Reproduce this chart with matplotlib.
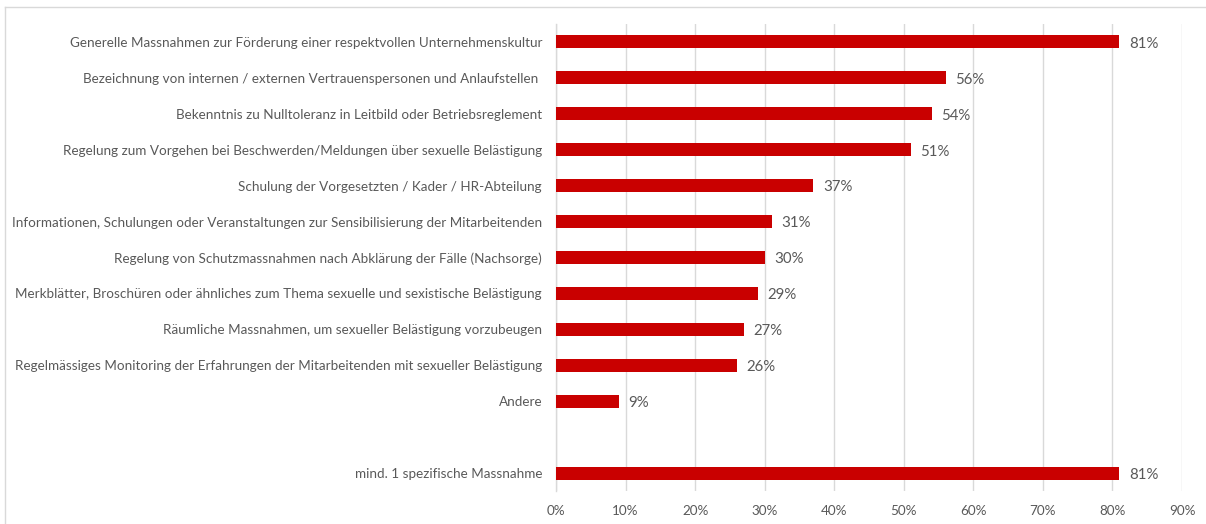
import matplotlib
matplotlib.use("Agg")
import matplotlib.pyplot as plt
from matplotlib.lines import Line2D

categories = [
    "Generelle Massnahmen zur Förderung einer respektvollen Unternehmenskultur",
    "Bezeichnung von internen / externen Vertrauenspersonen und Anlaufstellen ",
    "Bekenntnis zu Nulltoleranz in Leitbild oder Betriebsreglement",
    "Regelung zum Vorgehen bei Beschwerden/Meldungen über sexuelle Belästigung",
    "Schulung der Vorgesetzten / Kader / HR-Abteilung",
    "Informationen, Schulungen oder Veranstaltungen zur Sensibilisierung der Mitarbeitenden",
    "Regelung von Schutzmassnahmen nach Abklärung der Fälle (Nachsorge)",
    "Merkblätter, Broschüren oder ähnliches zum Thema sexuelle und sexistische Belästigung",
    "Räumliche Massnahmen, um sexueller Belästigung vorzubeugen",
    "Regelmässiges Monitoring der Erfahrungen der Mitarbeitenden mit sexueller Belästigung",
    "Andere",
    "",
    "mind. 1 spezifische Massnahme",
]
values = [81, 56, 54, 51, 37, 31, 30, 29, 27, 26, 9, None, 81]
xticks = [0, 10, 20, 30, 40, 50, 60, 70, 80, 90]

W, H, DPI = 1206, 524, 100
fig = plt.figure(figsize=(W / DPI, H / DPI), dpi=DPI)
fig.patch.set_facecolor("white")

left, right = 556 / W, 1182 / W
top, bottom = 1 - 24 / H, 1 - 491 / H
ax = fig.add_axes([left, bottom, right - left, top - bottom])

font = "Lato"
txtcol = "#595959"
barcol = "#C90000"

ys = list(range(len(categories)))
for y, v in zip(ys, values):
    if v is None:
        continue
    ax.barh(y, v, height=0.36, color=barcol, zorder=3)
    ax.text(v + 1.4, y + 0.05, f"{v}%", va="center", ha="left", fontsize=10.8,
            color=txtcol, family=font)

ax.set_ylim(len(categories) - 0.5, -0.5)
ax.set_xlim(0, 90)
ax.set_yticks(ys)
ax.set_yticklabels(categories, fontsize=9.75, color=txtcol, family=font)
ax.set_xticks(xticks)
ax.set_xticklabels([f"{t}%" for t in xticks], fontsize=9.75, color=txtcol, family=font)
ax.tick_params(axis="both", length=0)
ax.tick_params(axis="y", pad=10)
ax.tick_params(axis="x", pad=10)
ax.xaxis.grid(True, color="#D9D9D9", linewidth=1, zorder=0)
for s in ["top", "right", "bottom"]:
    ax.spines[s].set_visible(False)
ax.spines["left"].set_color("#D9D9D9")
ax.spines["left"].set_linewidth(1)

# outer frame (top and left visible)
fig.add_artist(Line2D([5 / W, 1.0], [1 - 7 / H, 1 - 7 / H], color="#D9D9D9", lw=1,
                      transform=fig.transFigure))
fig.add_artist(Line2D([5 / W, 5 / W], [0, 1 - 7 / H], color="#D9D9D9", lw=1,
                      transform=fig.transFigure))

fig.savefig("out.png", dpi=DPI)
